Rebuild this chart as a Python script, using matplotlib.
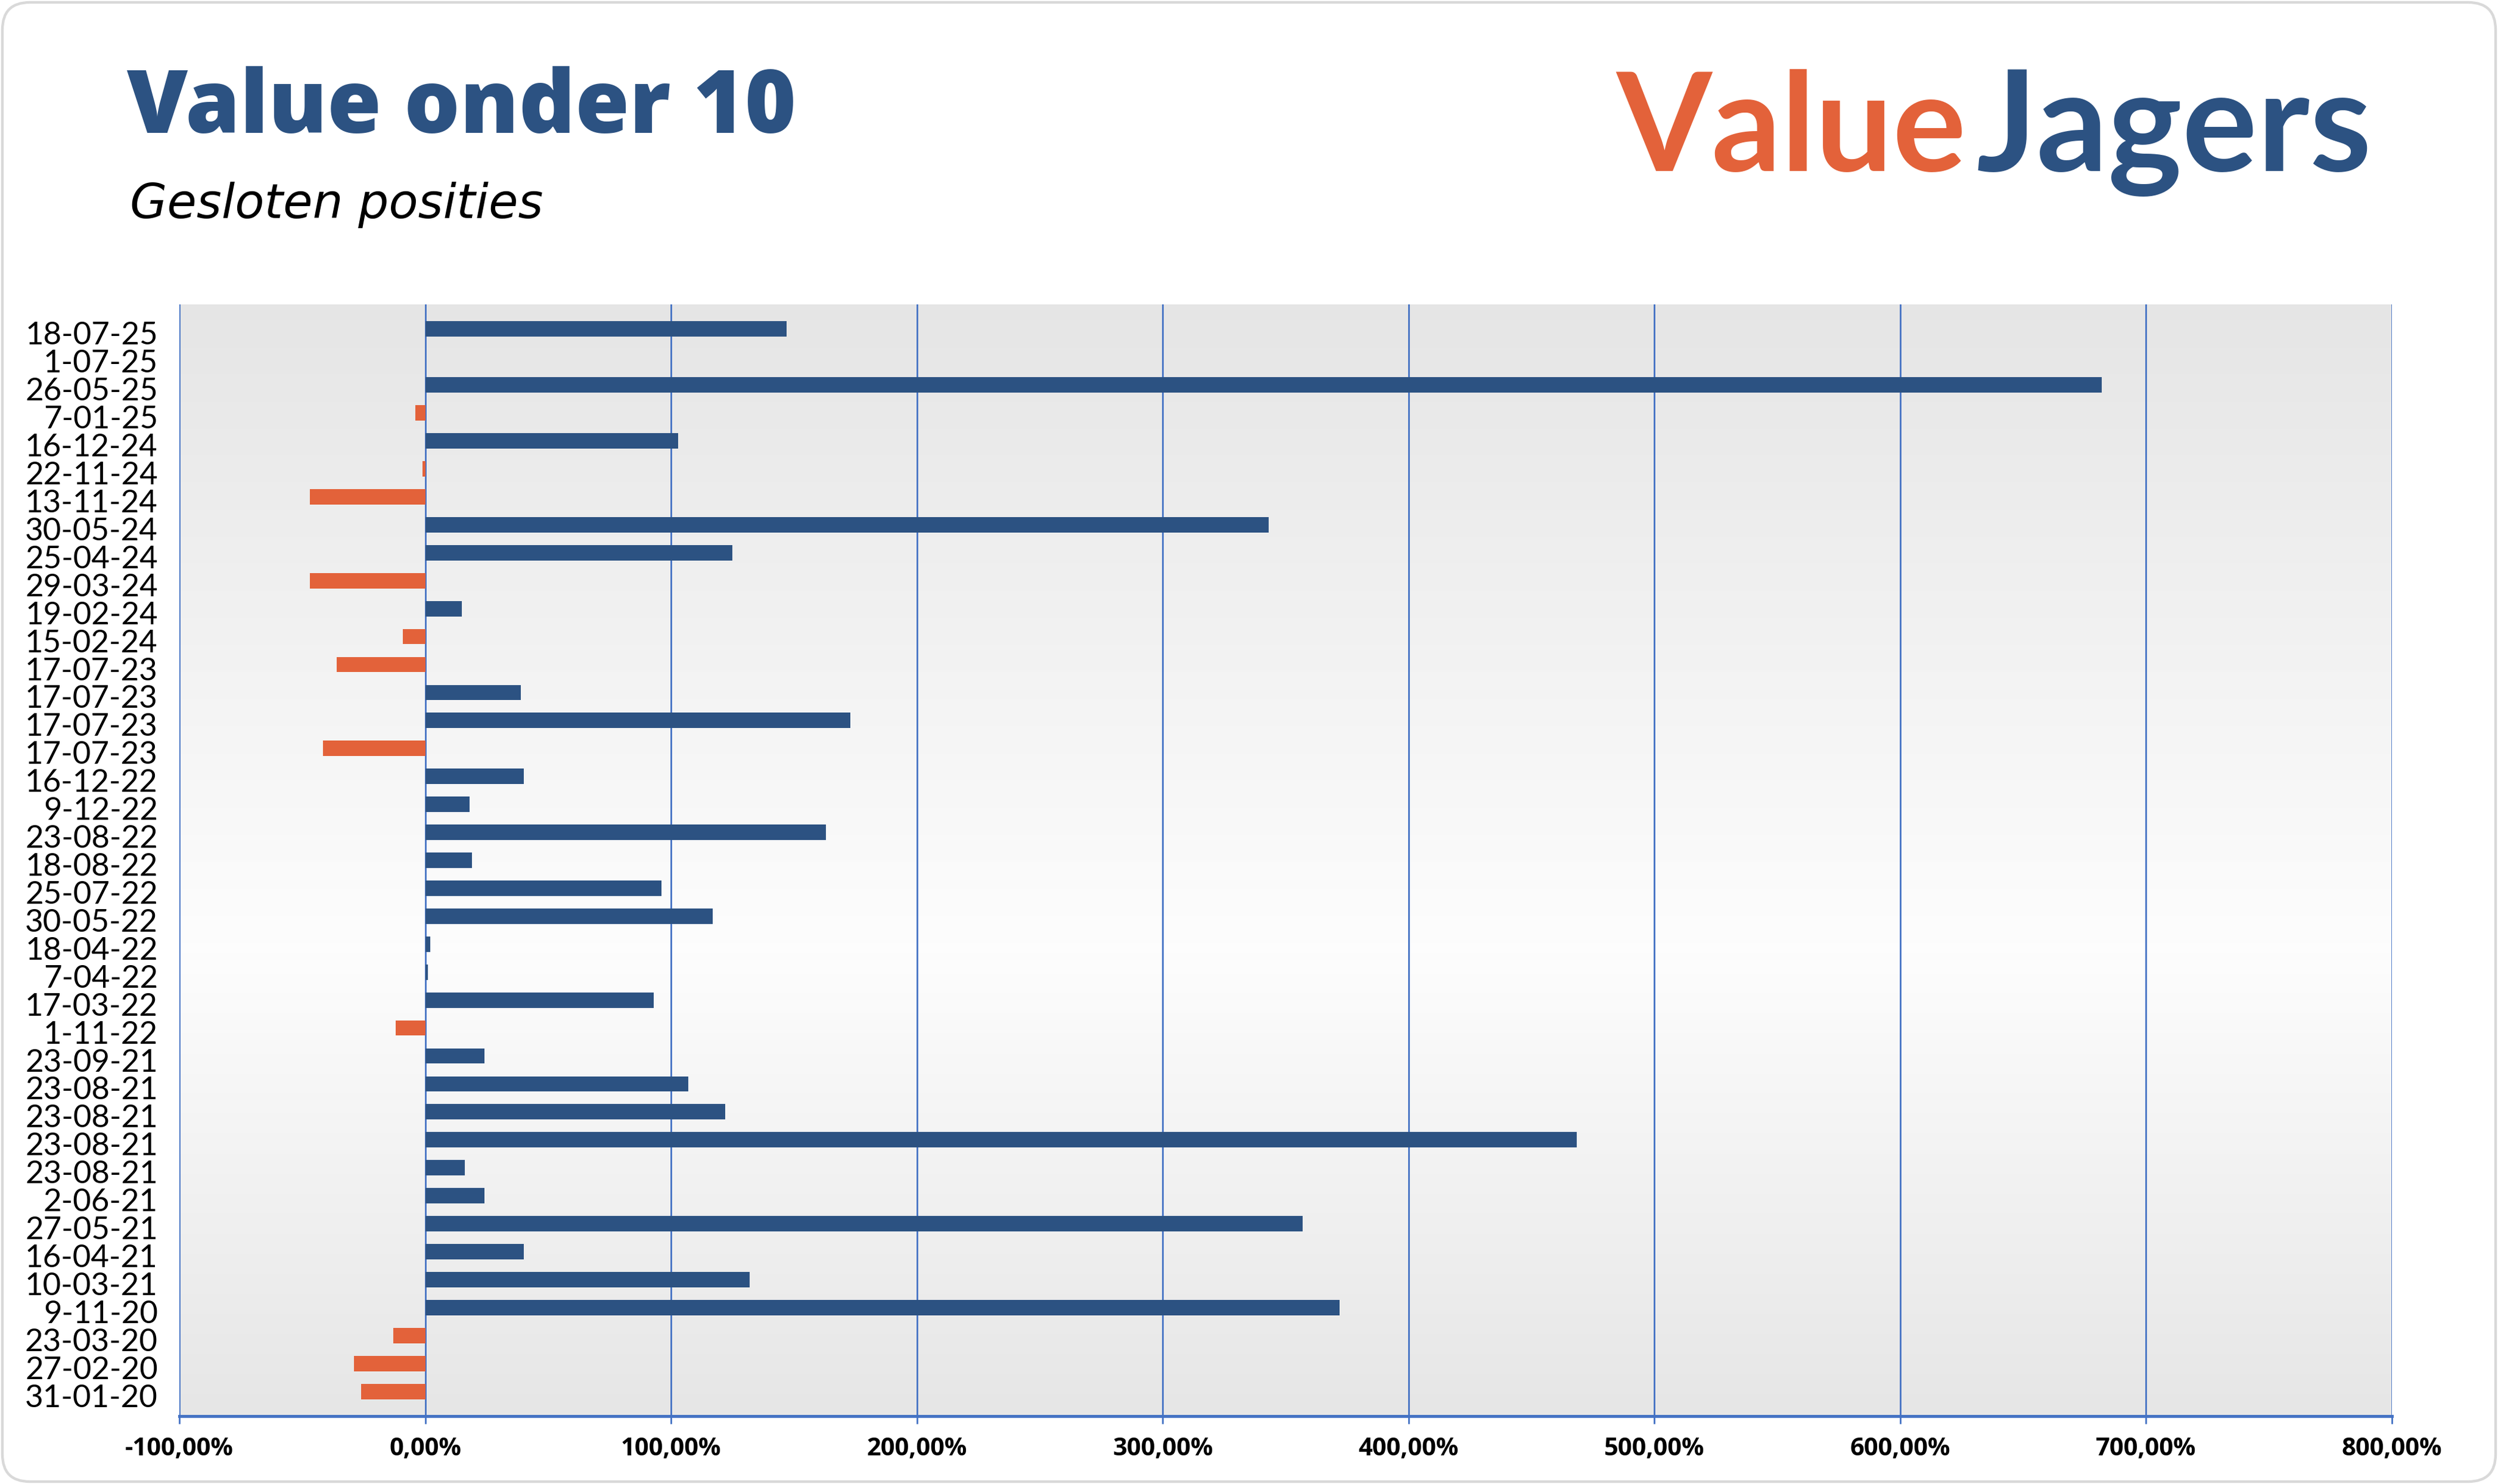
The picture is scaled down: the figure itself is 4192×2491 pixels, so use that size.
import matplotlib
matplotlib.use("Agg")
import matplotlib.pyplot as plt
from matplotlib.patches import FancyBboxPatch
from matplotlib.ticker import FuncFormatter
import numpy as np

# Gesloten posities, van boven naar beneden
datums = ['18-07-25', '1-07-25', '26-05-25', '7-01-25', '16-12-24', '22-11-24',
          '13-11-24', '30-05-24', '25-04-24', '29-03-24', '19-02-24', '15-02-24',
          '17-07-23', '17-07-23', '17-07-23', '17-07-23', '16-12-22', '9-12-22',
          '23-08-22', '18-08-22', '25-07-22', '30-05-22', '18-04-22', '7-04-22',
          '17-03-22', '1-11-22', '23-09-21', '23-08-21', '23-08-21', '23-08-21',
          '23-08-21', '2-06-21', '27-05-21', '16-04-21', '10-03-21', '9-11-20',
          '23-03-20', '27-02-20', '31-01-20']
rendement = [147, 0, 682, -4, 103, -1,
             -47, 343, 125, -47, 15, -9,
             -36, 39, 173, -41.5, 40, 18,
             163, 19, 96, 117, 2, 1,
             93, -12, 24, 107, 122, 468.5,
             16, 24, 357, 40, 132, 372,
             -13, -29, -26]
x_ticks = [-100, 0, 100, 200, 300, 400, 500, 600, 700, 800]

BLAUW = '#2c5282'
ORANJE = '#e3623a'
GRID = '#4472c4'

plt.rcParams['font.family'] = ['Lato', 'DejaVu Sans']

W, H, DPI = 4192, 2491, 200
fig = plt.figure(figsize=(W / DPI, H / DPI), dpi=DPI)
fig.patch.set_facecolor('white')

ax = fig.add_axes([301 / W, 1 - 2377 / H, (4014 - 301) / W, (2377 - 511) / H])
ax.set_facecolor('none')

# verloop achtergrond (grijs - wit - grijs)
stops = np.array([0.0, 0.58, 1.0])
vals = np.array([0.900, 0.993, 0.902])
t = np.linspace(0, 1, 256)
g = np.interp(t, stops, vals)
grad = np.dstack([g, g, g]).reshape(256, 1, 3)
ax.imshow(grad, extent=[0, 1, 0, 1], transform=ax.transAxes, aspect='auto',
          zorder=0, interpolation='bicubic')

y = np.arange(len(datums))
kleuren = [BLAUW if v >= 0 else ORANJE for v in rendement]
ax.barh(y, rendement, height=0.55, color=kleuren, zorder=3)

ax.set_xlim(-100, 800)
ax.set_ylim(len(datums) - 1 + 0.88, -0.88)

ax.set_xticks(x_ticks)
ax.xaxis.set_major_formatter(FuncFormatter(lambda v, p: f'{v:.2f}%'.replace('.', ',')))
ax.grid(axis='x', color=GRID, linewidth=1.0, zorder=1)
ax.set_axisbelow(True)

# labels staan net iets onder het midden van de balk
ax.set_yticks(y + 0.15)
ax.set_yticklabels(datums, fontsize=19)

ax.tick_params(axis='y', length=0, pad=13)
ax.tick_params(axis='x', direction='out', length=4.7, width=1.0, color=GRID,
               pad=8)
for lbl in ax.get_xticklabels():
    lbl.set_fontweight('bold')
    lbl.set_fontsize(15)
    lbl.set_family(['Open Sans', 'DejaVu Sans'])

for s in ['top', 'right', 'left']:
    ax.spines[s].set_visible(False)
ax.spines['bottom'].set_color(GRID)
ax.spines['bottom'].set_linewidth(1.8)
ax.spines['bottom'].set_zorder(4)

# titels
fig.text(212 / W, 1 - 223 / H, 'Value onder 10', fontsize=53,
         family=['Open Sans', 'DejaVu Sans'], fontweight='heavy',
         color=BLAUW, va='baseline', ha='left')
fig.text(218 / W, 1 - 366 / H, 'Gesloten posities', fontsize=29, style='italic',
         family=['DejaVu Sans'], color='black', va='baseline', ha='left')

# logo
fig.text(2712 / W, 1 - 287 / H, 'Value', fontsize=83, fontweight='bold',
         color=ORANJE, va='baseline', ha='left')
fig.text(3316 / W, 1 - 287 / H, 'Jagers', fontsize=85, fontweight='bold',
         color=BLAUW, va='baseline', ha='left')

# afgeronde rand om de hele kaart
rand = FancyBboxPatch((4 / DPI, 4 / DPI), (W - 8) / DPI, (H - 8) / DPI,
                      boxstyle='round,pad=0,rounding_size=0.23',
                      transform=fig.dpi_scale_trans, facecolor='none',
                      edgecolor='#d9d9d9', linewidth=1.6, zorder=10)
fig.patches.append(rand)

fig.savefig('out.png', dpi=DPI, facecolor='white')
